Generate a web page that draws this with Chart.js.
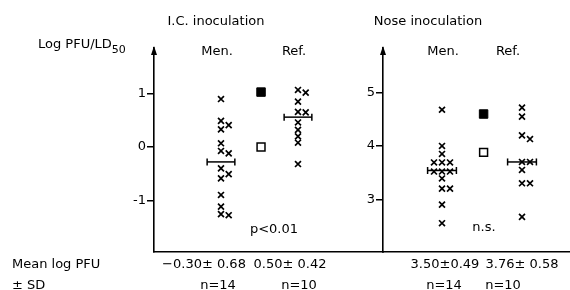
<!DOCTYPE html>
<html><head><meta charset="utf-8">
<script src="https://cdn.jsdelivr.net/npm/chart.js@4"></script>
<style>
html,body{margin:0;padding:0;background:#fff;}
#wrap{position:relative;width:570px;height:290px;overflow:hidden;font-family:"DejaVu Sans",sans-serif;color:#000;}
canvas{position:absolute;top:0;}
.t{position:absolute;font-size:13px;line-height:1;white-space:nowrap;transform:translate(-50%,-50%);}
.l{position:absolute;font-size:13px;line-height:1;white-space:nowrap;transform:translate(0,-50%);}
.t sub,.l sub{font-size:11px;vertical-align:-5px;line-height:1;}
</style></head><body>
<div id="wrap">
<canvas id="c1" width="384" height="290" style="left:0"></canvas>
<canvas id="c2" width="247" height="290" style="left:323px"></canvas>
</div>
<script>
// ---- data ----
const panelTitles = ["I.C. inoculation", "Nose inoculation"];
const groupLabels = ["Men.", "Ref."];
const icTicks = [-1, 0, 1];
const noseTicks = [3, 4, 5];
const icMen  = [0.90, 0.49, 0.41, 0.33, 0.07, -0.075, -0.12, -0.40, -0.51, -0.59, -0.90, -1.12, -1.26, -1.28];
const icRef  = [1.07, 1.02, 0.85, 0.66, 0.65, 0.46, 0.32, 0.20, 0.08, -0.32];
const noseMen = [4.68, 4.00, 3.85, 3.69, 3.69, 3.69, 3.52, 3.52, 3.52, 3.39, 3.20, 3.20, 2.90, 2.55];
const noseRef = [4.72, 4.55, 4.20, 4.13, 3.70, 3.70, 3.55, 3.30, 3.30, 2.67];
const icMeanBars = [-0.28, 0.56];
const noseMeanBars = [3.54, 3.70];
const icSquares = [1.03, 0.00];      // filled, open
const noseSquares = [4.60, 3.88];    // filled, open
const icMeanText = ["\u22120.30\u00b1 0.68", "0.50\u00b1 0.42"];
const noseMeanText = ["3.50\u00b10.49", "3.76\u00b1 0.58"];
const nText = ["n=14", "n=10"];
const pText = ["p<0.01", "n.s."];

// ---- helpers ----
function swarm(values, col, step, tol) {
  const placed = [];
  const order = [0, 1, -1, 2, -2];
  return values.map(v => {
    let slot = 0;
    for (const s of order) {
      if (!placed.some(p => p.s === s && Math.abs(p.v - v) < tol)) { slot = s; break; }
    }
    placed.push({ v, s: slot });
    return { x: col + slot * step, y: v };
  });
}
const arrowPlugin = {
  id: 'arrow',
  afterDraw(chart) {
    const { ctx, chartArea: { left, top } } = chart;
    ctx.save();
    ctx.fillStyle = '#000';
    ctx.beginPath();
    ctx.moveTo(left, top - 2);
    ctx.lineTo(left - 3, top + 7);
    ctx.lineTo(left + 3, top + 7);
    ctx.closePath();
    ctx.fill();
    ctx.restore();
  }
};
const FONT = { family: 'DejaVu Sans', size: 13 };

function makePanel(id, men, ref, bars, squares, ticks, xr, yr, padLeft) {
  const sqX = 1.52;
  const cross = { pointStyle: 'crossRot', pointRadius: 4.2, pointBorderWidth: 1.7, borderColor: '#000', backgroundColor: '#000', showLine: false };
  const bar = (col, m) => ({
    data: [{ x: col - 0.18, y: m }, { x: col + 0.18, y: m }],
    showLine: true, borderColor: '#000', borderWidth: 1.5,
    pointStyle: 'line', rotation: 90, pointRadius: 3.5, pointBorderWidth: 1.5, pointBorderColor: '#000'
  });
  return new Chart(document.getElementById(id), {
    type: 'scatter',
    data: {
      datasets: [
        Object.assign({ data: swarm(men, 1, 0.1, 0.12) }, cross),
        Object.assign({ data: swarm(ref, 2, 0.1, 0.12) }, cross),
        bar(1, bars[0]), bar(2, bars[1]),
        { data: [{ x: sqX, y: squares[0] }], pointStyle: 'rect', pointRadius: 6, backgroundColor: '#000', borderColor: '#000', pointBorderWidth: 1 },
        { data: [{ x: sqX, y: squares[1] }], pointStyle: 'rect', pointRadius: 5.6, backgroundColor: '#fff', borderColor: '#000', pointBorderWidth: 1.5 }
      ]
    },
    options: {
      responsive: false, animation: false, devicePixelRatio: 1,
      layout: { autoPadding: false, padding: { left: padLeft, top: 48, right: 0, bottom: 0 } },
      plugins: { legend: { display: false }, tooltip: { enabled: false } },
      scales: {
        x: {
          type: 'linear', min: xr[0], max: xr[1],
          ticks: { display: false },
          grid: { display: false },
          border: { display: true, color: '#000', width: 1.6 },
          afterFit: s => { s.height = 38; }
        },
        y: {
          type: 'linear', min: yr[0], max: yr[1],
          afterBuildTicks: s => { s.ticks = ticks.map(v => ({ value: v })); },
          ticks: { color: '#000', font: FONT, padding: 1 },
          grid: { drawOnChartArea: false, drawTicks: true, tickLength: 7, color: '#000', lineWidth: 1.5 },
          border: { display: true, color: '#000', width: 1.6 },
          afterFit: s => { s.width = 54; }
        }
      }
    },
    plugins: [arrowPlugin]
  });
}

makePanel('c1', icMen, icRef, icMeanBars, icSquares, icTicks, [0.13, 3.117], [-1.97, 1.857], 100);
makePanel('c2', noseMen, noseRef, noseMeanBars, noseSquares, noseTicks, [0.2625, 2.60], [2.01, 5.839], 6);

// ---- text labels ----
const wrap = document.getElementById('wrap');
function addText(html, x, y, cls) {
  const d = document.createElement('div');
  d.className = cls || 't';
  d.innerHTML = html;
  d.style.left = x + 'px';
  d.style.top = y + 'px';
  wrap.appendChild(d);
}
addText('Log PFU/LD<sub>50</sub>', 38, 46, 'l');
addText(panelTitles[0], 216, 20);
addText(panelTitles[1], 428, 20);
addText(groupLabels[0], 217, 50);
addText(groupLabels[1], 294, 50);
addText(groupLabels[0], 443, 50);
addText(groupLabels[1], 508, 50);
addText(pText[0], 274, 228);
addText(pText[1], 484, 226);
addText('Mean log PFU', 12, 263, 'l');
addText('\u00b1 SD', 12, 284, 'l');
addText(icMeanText[0], 204, 263);
addText(icMeanText[1], 290, 263);
addText(noseMeanText[0], 445, 263);
addText(noseMeanText[1], 522, 263);
addText(nText[0], 218, 284);
addText(nText[1], 299, 284);
addText(nText[0], 444, 284);
addText(nText[1], 503, 284);
</script>
</body></html>
